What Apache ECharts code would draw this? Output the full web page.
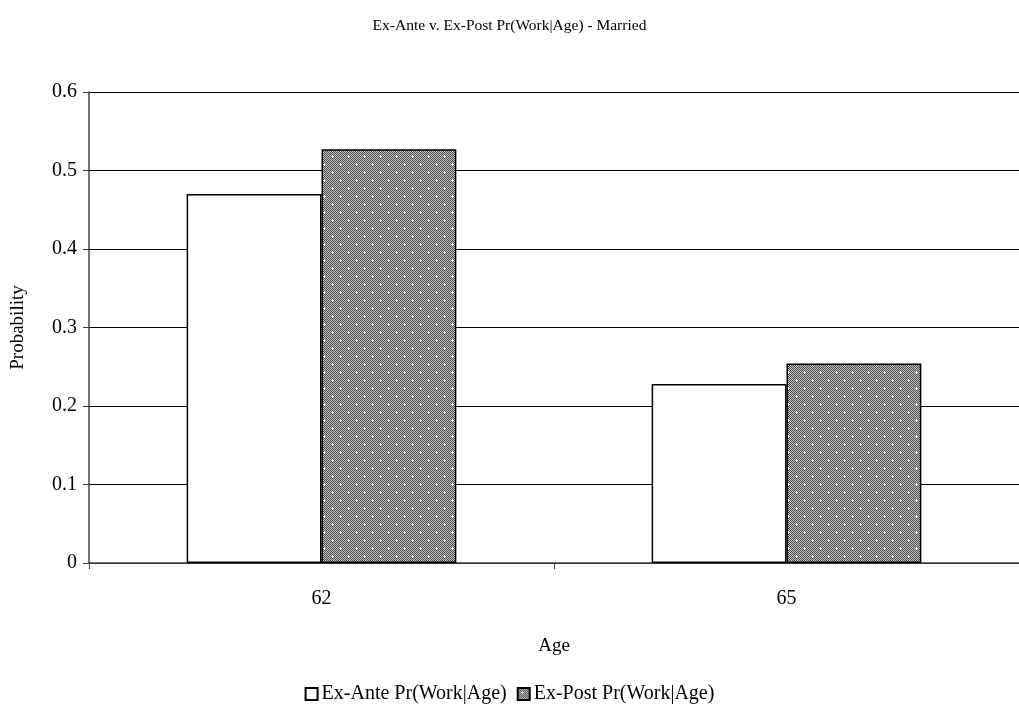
<!DOCTYPE html>
<html>
<head>
<meta charset="utf-8">
<script src="https://cdn.jsdelivr.net/npm/echarts@6/dist/echarts.min.js"></script>
<style>
  html, body { margin: 0; padding: 0; background: #fff; }
  #chart { width: 1019px; height: 717px; }
</style>
</head>
<body>
<div id="chart"></div>
<script>
// Work probability by age, married respondents
const categories = ['62', '65'];
const exAnte = [0.470, 0.228];
const exPost = [0.527, 0.254];
const seriesNames = ['Ex-Ante Pr(Work|Age)', 'Ex-Post Pr(Work|Age)'];
const yTicks = { min: 0, max: 0.6, step: 0.1 };

// Dithered grey fill with a lattice of white dots
function makeDotPattern() {
  const size = 16;
  const c = document.createElement('canvas');
  c.width = size; c.height = size;
  const ctx = c.getContext('2d');
  for (let y = 0; y < size; y++) {
    for (let x = 0; x < size; x++) {
      ctx.fillStyle = ((x + y) % 2 === 0) ? '#4a4a4a' : '#c4c4c4';
      ctx.fillRect(x, y, 1, 1);
    }
  }
  ctx.fillStyle = '#ffffff';
  const dots = [[4, 4], [12, 12]];
  dots.forEach(([dx, dy]) => {
    ctx.fillRect(dx, dy, 1, 1);
    ctx.fillRect(dx - 1, dy, 1, 1);
    ctx.fillRect(dx + 1, dy, 1, 1);
    ctx.fillRect(dx, dy - 1, 1, 1);
    ctx.fillRect(dx, dy + 1, 1, 1);
  });
  return c;
}

const serif = '"Liberation Serif", "DejaVu Serif", serif';
const chart = echarts.init(document.getElementById('chart'), null, { renderer: 'canvas' });

chart.setOption({
  animation: false,
  backgroundColor: '#ffffff',
  title: {
    text: 'Ex-Ante v. Ex-Post Pr(Work|Age) - Married',
    left: 'center',
    top: 13,
    textStyle: { fontFamily: serif, fontSize: 15.5, fontWeight: 'normal', color: '#000' }
  },
  legend: {
    bottom: 8,
    left: 'center',
    itemWidth: 12,
    itemHeight: 12,
    itemGap: 10,
    icon: 'rect',
    textStyle: { fontFamily: serif, fontSize: 20, color: '#000', padding: [0, 0, 0, -1] },
    data: seriesNames
  },
  grid: { left: 89, right: 0, top: 92, bottom: 154, containLabel: false, outerBoundsMode: 'none' },
  xAxis: {
    type: 'category',
    data: categories,
    name: 'Age',
    nameLocation: 'middle',
    nameGap: 74,
    nameTextStyle: { fontFamily: serif, fontSize: 19, color: '#000' },
    axisLine: { lineStyle: { color: '#444', width: 1.5 } },
    axisTick: { show: true, length: 6, lineStyle: { color: '#444' } },
    axisLabel: { fontFamily: serif, fontSize: 20, color: '#000', margin: 26 },
    splitLine: { show: false }
  },
  yAxis: {
    type: 'value',
    min: yTicks.min,
    max: yTicks.max,
    interval: yTicks.step,
    name: 'Probability',
    nameLocation: 'middle',
    nameGap: 61,
    nameTextStyle: { fontFamily: serif, fontSize: 19, color: '#000' },
    axisLine: { show: true, lineStyle: { color: '#444', width: 1.5 } },
    axisTick: { show: true, length: 6, lineStyle: { color: '#444' } },
    axisLabel: { fontFamily: serif, fontSize: 20, color: '#000', margin: 12 },
    splitLine: { show: true, lineStyle: { color: '#000', width: 1 } }
  },
  series: [
    {
      name: seriesNames[0],
      type: 'bar',
      data: exAnte,
      barGap: '0%',
      barCategoryGap: '42%',
      itemStyle: { color: '#ffffff', borderColor: '#000', borderWidth: 1.5 }
    },
    {
      name: seriesNames[1],
      type: 'bar',
      data: exPost,
      itemStyle: {
        color: { image: makeDotPattern(), repeat: 'repeat' },
        borderColor: '#000',
        borderWidth: 1.5
      }
    }
  ]
});
</script>
</body>
</html>
